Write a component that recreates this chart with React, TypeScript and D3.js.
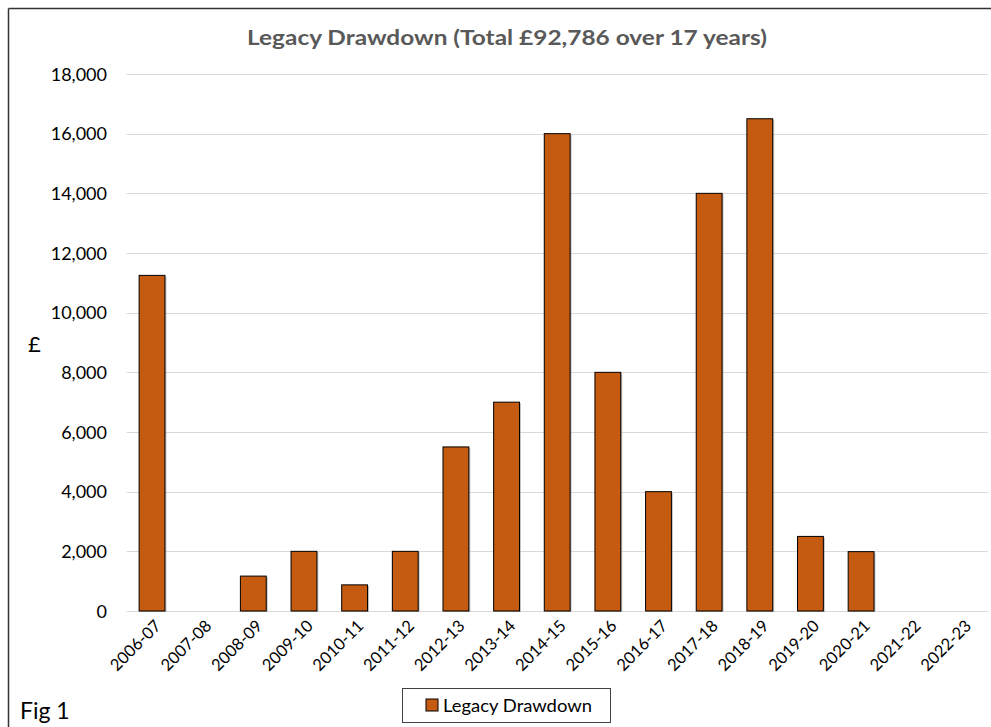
import React from "react";
import * as d3 from "d3";

const categories = [
  "2006-07", "2007-08", "2008-09", "2009-10", "2010-11", "2011-12",
  "2012-13", "2013-14", "2014-15", "2015-16", "2016-17", "2017-18",
  "2018-19", "2019-20", "2020-21", "2021-22", "2022-23",
];
const drawdown = [
  11250, 0, 1170, 2000, 876, 2000, 5500, 7000, 16000, 8000, 4000, 14000,
  16500, 2500, 1990, 0, 0,
];
const yTicks = [0, 2000, 4000, 6000, 8000, 10000, 12000, 14000, 16000, 18000];
const seriesName = "Legacy Drawdown";
const titleText = "Legacy Drawdown (Total £92,786 over 17 years)";

const W = 991;
const H = 727;
const FONT = "Lato, 'Open Sans', sans-serif";
const BAR = "#C55A11";

export default function App() {
  const plotLeft = 126.7;
  const plotRight = 987.7;
  const plotTop = 74;
  const plotBottom = 611;

  const x = d3.scaleBand<string>().domain(categories).range([plotLeft, plotRight]).paddingInner(0.49).paddingOuter(0.245);
  const y = d3.scaleLinear().domain([0, 18000]).range([plotBottom, plotTop]);
  const fmt = d3.format(",");

  return (
    <svg
      width={W}
      height={H}
      style={{ position: "fixed", left: 0, top: 0, display: "block", background: "#fff" }}
    >
      {/* chart frame */}
      <line x1={8.5} y1={8.5} x2={W} y2={8.5} stroke="#333" strokeWidth={1.5} />
      <line x1={8.5} y1={8.5} x2={8.5} y2={H} stroke="#333" strokeWidth={1.5} />

      <text x={247} y={45} textLength={520} lengthAdjust="spacingAndGlyphs" fontFamily={FONT} fontWeight={700} fontSize={21.5} fill="#595959">
        {titleText}
      </text>

      {/* gridlines */}
      {yTicks.map((t) => (
        <line key={t} x1={plotLeft} x2={plotRight} y1={Math.round(y(t)) + 0.5} y2={Math.round(y(t)) + 0.5} stroke="#d9d9d9" strokeWidth={1} />
      ))}
      {yTicks.map((t) => (
        <text key={"l" + t} x={107} y={y(t) + 6.5} textAnchor="end" fontFamily={FONT} fontSize={18} fill="#000">
          {fmt(t)}
        </text>
      ))}

      <text x={28} y={352} fontFamily={FONT} fontSize={22} fill="#000">£</text>

      {/* bars */}
      {categories.map((c, i) =>
        drawdown[i] > 0 ? (
          <g key={c}>
            <rect
              x={x(c)! + 1.5}
              y={y(drawdown[i]) + 1}
              width={x.bandwidth()}
              height={plotBottom - y(drawdown[i])}
              fill="#9a9a9a"
              opacity={0.6}
            />
            <rect
              x={x(c)!}
              y={y(drawdown[i])}
              width={x.bandwidth()}
              height={plotBottom - y(drawdown[i])}
              fill={BAR}
              stroke="#000"
              strokeWidth={1}
            />
          </g>
        ) : null
      )}

      {/* category labels */}
      {categories.map((c) => {
        const cx = x(c)! + x.bandwidth() / 2 + 7;
        const cy = 624;
        return (
          <text
            key={"x" + c}
            transform={`translate(${cx},${cy}) rotate(-45)`}
            textAnchor="end"
            dominantBaseline="middle"
            fontFamily={FONT}
            fontSize={16.5}
            fill="#000"
          >
            {c}
          </text>
        );
      })}

      {/* legend */}
      <rect x={402.5} y={688.5} width={208} height={34} fill="#fff" stroke="#404040" strokeWidth={1} />
      <rect x={426} y={699} width={12} height={12} fill={BAR} stroke="#000" strokeWidth={1} />
      <text x={443} y={712} textLength={149} lengthAdjust="spacingAndGlyphs" fontFamily={FONT} fontSize={18} fill="#000">{seriesName}</text>

      <text x={20} y={719} fontFamily={FONT} fontSize={23} fill="#000">Fig 1</text>
    </svg>
  );
}
